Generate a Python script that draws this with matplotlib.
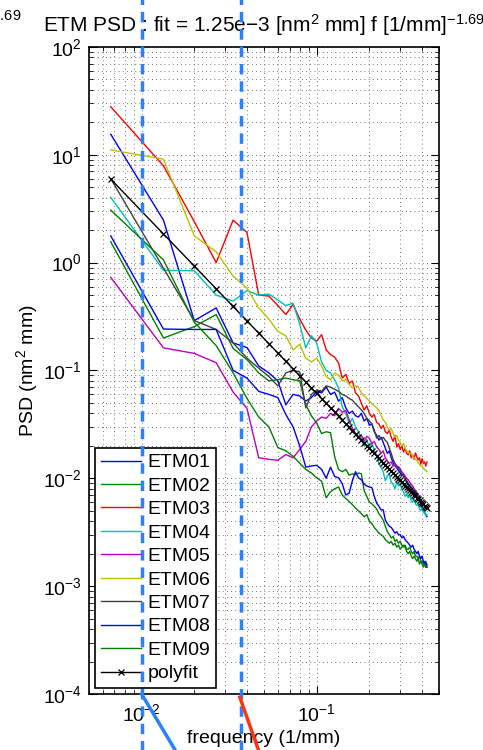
import numpy as np
import matplotlib
matplotlib.use('Agg')
import matplotlib.pyplot as plt

plt.rcParams['font.family'] = ['Liberation Sans', 'DejaVu Sans']
plt.rcParams['mathtext.fontset'] = 'custom'
plt.rcParams['mathtext.rm'] = 'Liberation Sans'
plt.rcParams['mathtext.it'] = 'Liberation Sans:italic'
plt.rcParams['mathtext.bf'] = 'Liberation Sans:bold'

# frequency samples, k / 150 mm
freq = np.arange(1, 65) / 150.0

# fit from the title: psd = amp * f^expo
fit_amp = 1.25e-3
fit_expo = -1.69

etm01 = [15.5, 2.48, 0.29, 0.38, 0.18, 0.163, 0.11, 0.095, 0.08, 0.048,
         0.060, 0.058, 0.052, 0.056, 0.064, 0.062, 0.070, 0.060, 0.063, 0.052,
         0.056, 0.045, 0.040, 0.042, 0.038, 0.037, 0.040, 0.034, 0.036, 0.031,
         0.032, 0.027, 0.025, 0.0226, 0.024, 0.0215, 0.019, 0.017, 0.018, 0.0155,
         0.014, 0.0130, 0.0125, 0.0118, 0.0112, 0.0105, 0.0110, 0.0100, 0.0095, 0.0090,
         0.0085, 0.0082, 0.0078, 0.0075, 0.0073, 0.0070, 0.0066, 0.0062, 0.0058, 0.0055,
         0.0052, 0.0048, 0.0046, 0.0044]
etm02 = [1.56, 0.20, 0.255, 0.33, 0.16, 0.126, 0.095, 0.080, 0.082, 0.085,
         0.082, 0.080, 0.048, 0.038, 0.0325, 0.026, 0.027, 0.0265, 0.0159, 0.0121,
         0.0115, 0.0121, 0.0107, 0.0110, 0.0108, 0.0112, 0.0110, 0.0077, 0.0068, 0.0060,
         0.0058, 0.0055, 0.0052, 0.0047, 0.0044, 0.0041, 0.0036, 0.0032, 0.0030, 0.0028,
         0.0029, 0.0026, 0.0027, 0.0025, 0.0026, 0.0024, 0.0023, 0.0024, 0.0022, 0.0022,
         0.0023, 0.0021, 0.0020, 0.0021, 0.0019, 0.0019, 0.0018, 0.0019, 0.0017, 0.0017,
         0.0016, 0.0017, 0.0015, 0.0016]
etm03 = [27.9, 7.9, 2.4, 1.0, 2.48, 1.9, 0.50, 0.49, 0.40, 0.33,
         0.41, 0.30, 0.237, 0.20, 0.187, 0.215, 0.155, 0.14, 0.133, 0.117,
         0.085, 0.092, 0.076, 0.080, 0.062, 0.058, 0.050, 0.043, 0.047, 0.040,
         0.037, 0.039, 0.033, 0.032, 0.029, 0.031, 0.027, 0.026, 0.028, 0.024,
         0.022, 0.025, 0.0195, 0.021, 0.0185, 0.020, 0.0175, 0.019, 0.017, 0.0165,
         0.018, 0.0155, 0.0165, 0.015, 0.0172, 0.0158, 0.0148, 0.0155, 0.0135, 0.0152,
         0.0138, 0.0142, 0.0130, 0.0142]
etm04 = [4.03, 0.85, 0.84, 0.50, 0.44, 0.55, 0.50, 0.51, 0.45, 0.40,
         0.42, 0.27, 0.162, 0.21, 0.18, 0.12, 0.10, 0.095, 0.082, 0.069,
         0.046, 0.040, 0.032, 0.036, 0.030, 0.027, 0.0226, 0.020, 0.023, 0.019,
         0.0215, 0.018, 0.0165, 0.0138, 0.0125, 0.0115, 0.0095, 0.0105, 0.0110, 0.0092,
         0.0088, 0.0080, 0.0092, 0.0085, 0.0090, 0.0078, 0.0075, 0.0068, 0.0072, 0.0066,
         0.0070, 0.0062, 0.0060, 0.0064, 0.0058, 0.0056, 0.0059, 0.0052, 0.0050, 0.0053,
         0.0048, 0.0049, 0.0045, 0.0046]
etm05 = [0.73, 0.162, 0.144, 0.118, 0.063, 0.0445, 0.0155, 0.0150, 0.0147, 0.0166,
         0.0155, 0.0185, 0.022, 0.030, 0.034, 0.037, 0.036, 0.040, 0.038, 0.0445,
         0.041, 0.0425, 0.035, 0.029, 0.026, 0.0236, 0.025, 0.022, 0.0245, 0.0236,
         0.021, 0.022, 0.0195, 0.0186, 0.017, 0.018, 0.0155, 0.0145, 0.0138, 0.0142,
         0.0130, 0.0135, 0.0125, 0.0128, 0.0123, 0.0115, 0.0110, 0.0105, 0.0100, 0.0097,
         0.0092, 0.0088, 0.0085, 0.0080, 0.0076, 0.0073, 0.0070, 0.0066, 0.0063, 0.0061,
         0.0058, 0.0055, 0.0054, 0.0052]
etm06 = [11.1, 9.1, 1.77, 1.26, 0.75, 0.58, 0.38, 0.30, 0.23, 0.21,
         0.155, 0.175, 0.13, 0.12, 0.13, 0.11, 0.088, 0.082, 0.095, 0.090,
         0.080, 0.083, 0.074, 0.069, 0.072, 0.070, 0.062, 0.058, 0.055, 0.052,
         0.049, 0.047, 0.045, 0.043, 0.038, 0.035, 0.033, 0.030, 0.028, 0.029,
         0.026, 0.024, 0.025, 0.0225, 0.0215, 0.020, 0.021, 0.019, 0.018, 0.0175,
         0.0168, 0.0172, 0.0160, 0.0155, 0.0150, 0.0146, 0.0140, 0.0135, 0.0130, 0.0128,
         0.0125, 0.0120, 0.0118, 0.0115]
etm07 = [6.0, 0.89, 0.29, 0.24, 0.18, 0.13, 0.105, 0.088, 0.072, 0.095,
         0.10, 0.097, 0.045, 0.060, 0.066, 0.064, 0.072, 0.070, 0.067, 0.064,
         0.060, 0.058, 0.055, 0.053, 0.049, 0.046, 0.043, 0.040, 0.036, 0.034,
         0.032, 0.028, 0.0236, 0.025, 0.023, 0.024, 0.0225, 0.0215, 0.019, 0.017,
         0.015, 0.0138, 0.0130, 0.0125, 0.0118, 0.0110, 0.0105, 0.0098, 0.0092, 0.0088,
         0.0083, 0.0080, 0.0075, 0.0073, 0.0070, 0.0068, 0.0065, 0.0063, 0.0060, 0.0058,
         0.0056, 0.0055, 0.0054, 0.0052]
etm08 = [1.77, 0.242, 0.24, 0.24, 0.10, 0.085, 0.064, 0.060, 0.056, 0.039,
         0.030, 0.020, 0.0127, 0.0130, 0.0132, 0.0121, 0.0100, 0.0127, 0.0104, 0.0101,
         0.0089, 0.0070, 0.0073, 0.0095, 0.0115, 0.0101, 0.0097, 0.0088, 0.0085, 0.0083,
         0.0082, 0.0068, 0.0059, 0.0055, 0.0051, 0.0051, 0.0041, 0.0038, 0.0036, 0.0035,
         0.0033, 0.0031, 0.0032, 0.0030, 0.0030, 0.0028, 0.0029, 0.0027, 0.0026, 0.0025,
         0.0024, 0.0023, 0.0024, 0.0022, 0.0021, 0.0020, 0.0021, 0.0019, 0.0018, 0.0019,
         0.0017, 0.0016, 0.0017, 0.0015]
etm09 = [3.07, 1.06, 0.28, 0.17, 0.095, 0.055, 0.037, 0.030, 0.0193, 0.018,
         0.016, 0.0138, 0.0121, 0.0112, 0.0101, 0.0094, 0.0066, 0.0075, 0.0080, 0.0083,
         0.0070, 0.0065, 0.0061, 0.0057, 0.0053, 0.0050, 0.0047, 0.0044, 0.0046, 0.0040,
         0.0038, 0.0035, 0.0033, 0.0031, 0.0030, 0.0029, 0.0027, 0.0026, 0.0025, 0.0026,
         0.0024, 0.0025, 0.0023, 0.0024, 0.0022, 0.0023, 0.0024, 0.0023, 0.0021, 0.0020,
         0.0021, 0.0019, 0.0018, 0.0019, 0.0018, 0.0017, 0.0018, 0.0016, 0.0017, 0.0016,
         0.0015, 0.0016, 0.0015, 0.0015]

names = ['ETM01', 'ETM02', 'ETM03', 'ETM04', 'ETM05', 'ETM06', 'ETM07', 'ETM08', 'ETM09']
series = [etm01, etm02, etm03, etm04, etm05, etm06, etm07, etm08, etm09]
colors = [(0, 0, 1), (0, 0.5, 0), (1, 0, 0), (0, 0.75, 0.75), (0.75, 0, 0.75),
          (0.75, 0.75, 0), (0.25, 0.25, 0.25), (0, 0, 1), (0, 0.5, 0)]

# markup lines drawn over the figure
mark_x = [0.01, 0.037]
arrow_blue = ([0.01, 0.0204], [0.0, -0.14])
arrow_red = ([0.0364, 0.0546], [-0.005, -0.14])
mark_col = '#2a80ff'

fig = plt.figure(figsize=(4.83, 7.5), dpi=100)
ax = fig.add_axes([0.184, 0.0747, 0.725, 0.8627])

for y, c, n in zip(series, colors, names):
    ax.loglog(freq, y, color=c, lw=1.0, label=n)
ax.loglog(freq, fit_amp * freq ** fit_expo, color='k', lw=1.0, marker='x',
          ms=4, mew=0.9, label='polyfit')

ax.set_xlim(0.005, 0.5)
ax.set_ylim(1e-4, 1e2)
ax.grid(True, which='both', color='0.3', linestyle=(0, (1, 4)), lw=0.6)
ax.tick_params(which='both', direction='in', top=True, right=True, labelsize=14)
ax.tick_params(axis='y', which='both', pad=5)
ax.tick_params(axis='x', which='both', pad=7)
ax.tick_params(which='major', length=6)
ax.tick_params(which='minor', length=3)
for s in ax.spines.values():
    s.set_linewidth(1.2)

ax.set_xlabel('frequency (1/mm)', fontsize=14, labelpad=3)
ax.set_ylabel('PSD (nm$^2$ mm)', fontsize=14, labelpad=2)
ax.set_title('ETM PSD : fit = 1.25e$-$3 [nm$^2$ mm] f [1/mm]$^{-1.69}$',
             fontsize=15, pad=11)

leg = ax.legend(loc='lower left', fontsize=14, fancybox=False, edgecolor='k',
                framealpha=1, borderaxespad=0.3, handlelength=2.1,
                handletextpad=0.3, labelspacing=0.3, borderpad=0.3)
leg.get_frame().set_linewidth(1.2)

# leftover of the neighbouring panel title
fig.text(0.045, 0.966, '$^{-1.69}$', fontsize=15, ha='right', va='baseline')

for xm in mark_x:
    ax.axvline(xm, ymin=-0.12, ymax=1.12, color=mark_col, lw=2.5,
               linestyle=(0, (3, 2)), clip_on=False, zorder=10)
ax.plot(arrow_blue[0], arrow_blue[1], color=mark_col, lw=2.5,
        transform=ax.get_xaxis_transform(), clip_on=False, zorder=10)
ax.plot(arrow_red[0], arrow_red[1], color='#ff3311', lw=2.5,
        transform=ax.get_xaxis_transform(), clip_on=False, zorder=10)

fig.savefig('out.png', dpi=100)
